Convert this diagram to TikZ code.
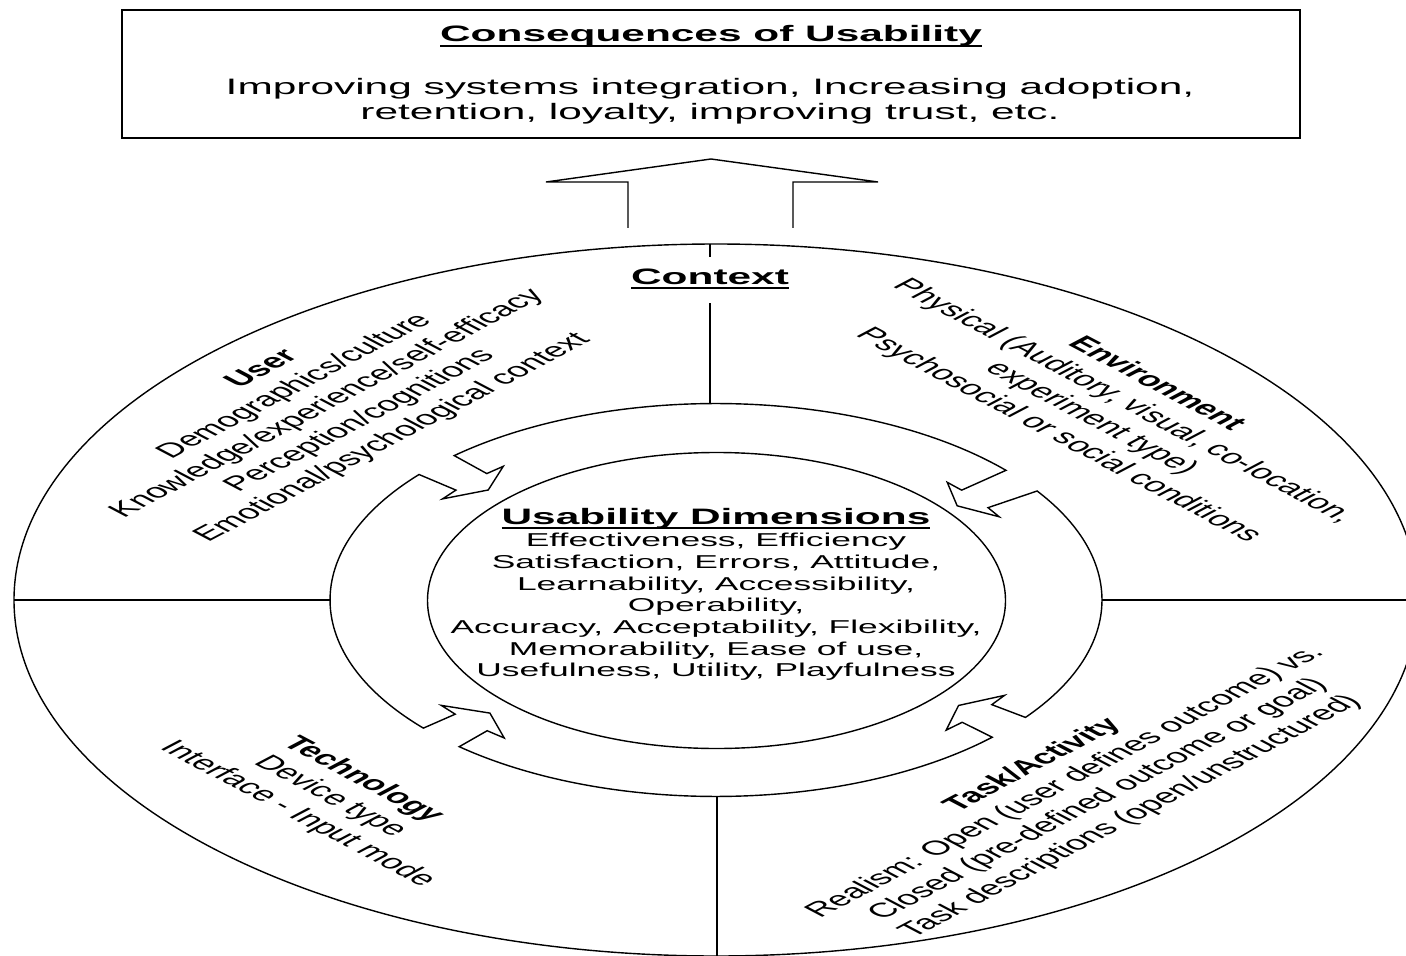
\documentclass[tikz,border=0pt]{standalone}
\usepackage{fontspec}
\setmainfont{Liberation Sans}
\newsavebox{\uheadbox}
\newcommand{\uhead}[1]{\sbox{\uheadbox}{\textbf{#1}}\rlap{\rule[-2.6pt]{\wd\uheadbox}{1pt}}\usebox{\uheadbox}}
\begin{document}
\begin{tikzpicture}[x=0.02cm, y=-0.02cm, line width=0.8pt,
		every node/.style={inner sep=0pt},
		widetxt/.style={xscale=1.9},
		headtxt/.style={widetxt, align=center, font={\fontsize{12.7pt}{14.2pt}\selectfont}},
		quadtxt/.style={widetxt, align=center, font={\fontsize{11.4pt}{13.8pt}\selectfont}},
		listtxt/.style={widetxt, align=center, font={\fontsize{10.6pt}{12.35pt}\selectfont}}]
		\useasboundingbox (0,0) rectangle (1406,956);
		\fill[white] (0,0) rectangle (1406,956);
		\clip (0,0) rectangle (1406,956);
		% consequences box
		\draw (122,10) rectangle (1300,138);
		\node[headtxt, anchor=base] (conseq) at (711,42) {\uhead{Consequences of Usability}};
		\node[headtxt, anchor=north] (gains) at (710,78) {Improving systems integration, Increasing adoption,\\retention, loyalty, improving trust, etc.};
		% open block arrow
		\draw (628,228) -- (628,182) -- (546,182) -- (711,159) -- (878,182) -- (793,182) -- (793,228);
		% context ellipse and dividers
		\draw (716,600) ellipse [x radius=702, y radius=356];
		\draw (710,244) -- (710,257);
		\draw (710,303) -- (710,404);
		\draw (14,600) -- (330,600);
		\draw (1102,600) -- (1406,600);
		\draw (717,797) -- (717,956);
		\node[headtxt, anchor=base] (context) at (710,284) {\uhead{Context}};
		% ring with the four inward arrows
		\begin{scope}[shift={(716,600)}, yscale=-0.509]
			\draw (33.7:386) foreach \a/\rb/\rt/\n in {37.5/327/304/136.5, 136.5/338/314/224.5, 224.5/344/317/319.5, 319.5/344/319/397.5} {
				-- ({\a-3.8}:\rb) -- ({\a-7.5}:\rb) -- (\a:\rt) -- ({\a+7.5}:\rb) -- ({\a+3.8}:\rb) -- ({\a+3.8}:386)
				arc [start angle=\a+3.8, end angle=\n-3.8, radius=386]} -- cycle;
		\end{scope}
		\draw (716.5,600.5) ellipse [x radius=289, y radius=148];
		% usability dimensions
		\node[headtxt, anchor=base] (dims) at (716,524) {\uhead{Usability Dimensions}};
		\node[listtxt, anchor=north] (dimlist) at (716,532.5) {Effectiveness, Efficiency\\Satisfaction, Errors, Attitude,\\Learnability, Accessibility,\\Operability,\\Accuracy, Acceptability, Flexibility,\\Memorability, Ease of use,\\Usefulness, Utility, Playfulness};
		% quadrants
		\node[quadtxt, rotate=45] (user) at (328,404) {\textbf{User}\\Demographics/culture\\Knowledge/experience/self-efficacy\\Perception/cognitions\\Emotional/psychological context};
		\node[quadtxt, rotate=-45] (environment) at (1107,410) {\textbf{Environment}\\Physical (Auditory, visual, co-location,\\experiment type)\\Psychosocial or social conditions};
		\node[quadtxt, rotate=-45] (technology) at (330,797) {\textbf{Technology}\\Device type\\Interface - Input mode};
		\node[quadtxt, rotate=45] (task) at (1082,791) {\textbf{Task/Activity}\\Realism: Open (user defines outcome) vs.\\Closed (pre-defined outcome or goal)\\Task descriptions (open/unstructured)};
	\end{tikzpicture}
\end{document}
